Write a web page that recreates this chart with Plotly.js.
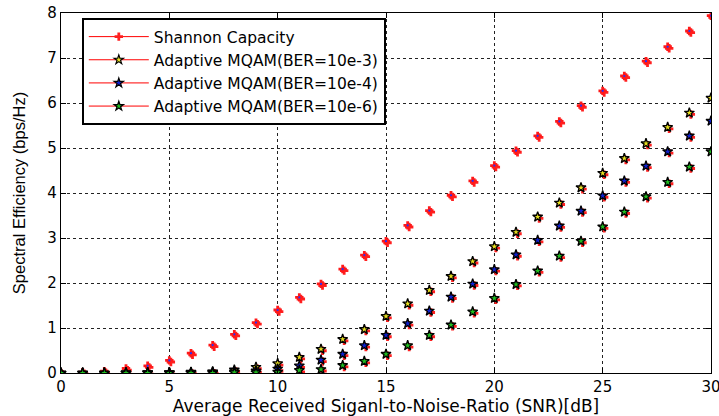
<!DOCTYPE html>
<html><head><meta charset="utf-8">
<script src="https://cdn.plot.ly/plotly-3.0.1.min.js"></script>
<style>html,body{margin:0;padding:0;background:#fff}#chart{width:719px;height:416px}</style>
</head><body><div id="chart"></div>
<script>
const snr = [0,1,2,3,4,5,6,7,8,9,10,11,12,13,14,15,16,17,18,19,20,21,22,23,24,25,26,27,28,29,30];
const shannon = [0,0.02,0.04,0.1,0.16,0.28,0.44,0.62,0.86,1.12,1.4,1.68,1.98,2.31,2.62,2.93,3.28,3.61,3.95,4.27,4.61,4.94,5.27,5.59,5.94,6.27,6.6,6.93,7.25,7.6,7.94];
const ber3 = [0,0,0,0.01,0.01,0.01,0.02,0.03,0.07,0.13,0.21,0.35,0.53,0.75,0.97,1.26,1.54,1.84,2.15,2.48,2.81,3.13,3.47,3.78,4.12,4.44,4.77,5.1,5.46,5.78,6.11];
const ber4 = [0,0,0,0,0.01,0.01,0.01,0.02,0.03,0.05,0.09,0.16,0.29,0.42,0.61,0.84,1.1,1.38,1.69,1.98,2.3,2.63,2.95,3.27,3.6,3.94,4.27,4.6,4.92,5.27,5.6];
const ber6 = [0,0,0,0,0,0,0,0,0.01,0.01,0.02,0.06,0.08,0.17,0.26,0.42,0.61,0.84,1.07,1.36,1.66,1.97,2.27,2.6,2.93,3.25,3.58,3.92,4.24,4.58,4.92];
const names = ['Shannon Capacity','Adaptive MQAM(BER=10e-3)','Adaptive MQAM(BER=10e-4)','Adaptive MQAM(BER=10e-6)'];
const xTicks = [0,5,10,15,20,25,30];
const yTicks = [0,1,2,3,4,5,6,7,8];

const faces = ['#e8e020','#1020d0','#20c020'];
const traces = [];
// red shadow markers (slightly offset overlay axes)
[shannon, ber3, ber4, ber6].forEach(function(ys){
  traces.push({x: snr, y: ys, xaxis:'x2', yaxis:'y2', mode:'markers', type:'scatter', showlegend:false, hoverinfo:'skip',
    marker:{symbol:'cross', size:7, color:'#ff2020', line:{width:0}}});
});
// Shannon markers
traces.push({x: snr, y: shannon, xaxis:'x3', yaxis:'y3', mode:'markers', type:'scatter', showlegend:false,
  marker:{symbol:'cross', size:7, color:'#ff1818', line:{width:0}}});
traces.push({x: snr, y: shannon, xaxis:'x3', yaxis:'y3', mode:'markers', type:'scatter', showlegend:false,
  marker:{symbol:'circle', size:2.2, color:'#2030ff', line:{width:0}}});
[ber3, ber4, ber6].forEach(function(ys, i){
  traces.push({x: snr, y: ys, xaxis:'x3', yaxis:'y3', mode:'markers', type:'scatter', showlegend:false,
    marker:{symbol:'star', size:7.5, color:faces[i], line:{width:1.3, color:'#000'}}});
});
// legend entries
const legMarkers = [
  {symbol:'cross', size:7, color:'#ff2020', line:{width:0}},
  {symbol:'star', size:7, color:faces[0], line:{width:1.2, color:'#000'}},
  {symbol:'star', size:7, color:faces[1], line:{width:1.2, color:'#000'}},
  {symbol:'star', size:7, color:faces[2], line:{width:1.2, color:'#000'}}
];
names.forEach(function(n, i){
  traces.push({x:[null], y:[null], mode:'lines+markers', type:'scatter', name:n,
    line:{color:'#ff0000', width:1}, marker:legMarkers[i]});
});

const hid = {visible:false, showgrid:false, zeroline:false, fixedrange:true};
const layout = {
  width:719, height:416,
  margin:{l:61, r:8, t:13, b:43},
  paper_bgcolor:'#fff', plot_bgcolor:'#fff',
  font:{family:'DejaVu Sans, sans-serif', color:'#000', size:14},
  xaxis:{range:[0,30], tickvals:xTicks, ticks:'inside', ticklen:5, tickcolor:'#000',
    showline:true, linecolor:'#000', linewidth:1.2, mirror:'ticks', ticklabeloverflow:'allow',
    showgrid:true, gridcolor:'#222', griddash:'dot', gridwidth:1, zeroline:false,
    tickfont:{size:15, family:'DejaVu Sans, sans-serif'},
    title:{text:'Average Received Siganl-to-Noise-Ratio (SNR)[dB]', font:{size:17, family:'DejaVu Sans, sans-serif'}, standoff:1}},
  yaxis:{range:[0,8], tickvals:yTicks, ticks:'inside', ticklen:5, tickcolor:'#000',
    showline:true, linecolor:'#000', linewidth:1.2, mirror:'ticks', ticklabeloverflow:'allow',
    showgrid:true, gridcolor:'#222', griddash:'dot', gridwidth:1, zeroline:false,
    tickfont:{size:15, family:'DejaVu Sans, sans-serif'},
    title:{text:'Spectral Efficiency (bps/Hz)', font:{size:16.5, family:'Liberation Sans, Arial, sans-serif'}, standoff:17}},
  xaxis2:Object.assign({overlaying:'x', range:[-0.07, 29.93]}, hid),
  yaxis2:Object.assign({overlaying:'y', range:[0.035, 8.035]}, hid),
  xaxis3:Object.assign({overlaying:'x', range:[0, 30]}, hid),
  yaxis3:Object.assign({overlaying:'y', range:[0, 8]}, hid),
  showlegend:true,
  legend:{x:0.032, y:0.986, xanchor:'left', yanchor:'top', bgcolor:'#fff', bordercolor:'#000', borderwidth:2,
    font:{size:15.5, family:'DejaVu Sans, sans-serif'}, tracegroupgap:0, itemwidth:60}
};
Plotly.newPlot('chart', traces, layout, {displayModeBar:false, staticPlot:true});
</script></body></html>
